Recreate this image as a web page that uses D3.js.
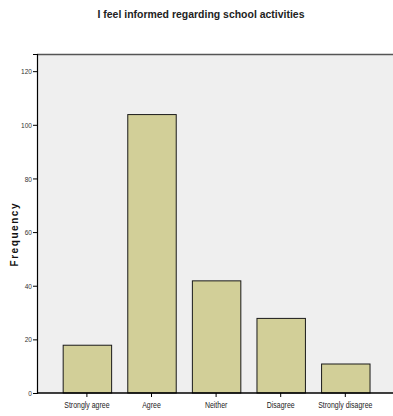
<!DOCTYPE html>
<html><head><meta charset="utf-8">
<script src="https://cdn.jsdelivr.net/npm/d3@7"></script>
<style>
body{margin:0;background:#fff;}
text{font-family:"Liberation Sans Narrow","Arial Narrow","Liberation Sans",Arial,sans-serif;}
</style></head>
<body>
<svg id="chart" width="393" height="416"></svg>
<script>
const categories = ["Strongly agree","Agree","Neither","Disagree","Strongly disagree"];
const frequencies = [18, 104, 42, 28, 11];
const yTicks = [0, 20, 40, 60, 80, 100, 120];
const title = "I feel informed regarding school activities";
const yLabel = "Frequency";

const svg = d3.select("#chart");
const plot = {left: 37, top: 54, right: 393, bottom: 393};

const y = d3.scaleLinear().domain([0, 126.4]).range([plot.bottom, plot.top]);
const x = d3.scaleBand().domain(categories).range([54.6, 377.6]).paddingInner(0.25).paddingOuter(0.125);

// background
svg.append("rect").attr("x", plot.left).attr("y", plot.top)
  .attr("width", plot.right - plot.left).attr("height", plot.bottom - plot.top)
  .attr("fill", "#efefef");
// top frame line
svg.append("line").attr("x1", plot.left).attr("x2", plot.right)
  .attr("y1", plot.top + 0.5).attr("y2", plot.top + 0.5)
  .attr("stroke", "#555").attr("stroke-width", 1.5);

// bars
svg.append("g").selectAll("rect").data(categories).join("rect")
  .attr("x", d => x(d) + 0.5)
  .attr("y", (d, i) => y(frequencies[i]) + 0.5)
  .attr("width", x.bandwidth())
  .attr("height", (d, i) => plot.bottom - y(frequencies[i]) - 0.5)
  .attr("fill", "#d2cf98")
  .attr("stroke", "#1a1a1a").attr("stroke-width", 1);

// y axis
const yAxis = d3.axisLeft(y).tickValues(yTicks).tickSize(4).tickPadding(1);
const gy = svg.append("g").attr("transform", `translate(${plot.left},0)`).call(yAxis);
gy.select(".domain").attr("stroke", "#000").attr("stroke-width", 1.2);
gy.selectAll(".tick line").attr("stroke", "#000");
gy.selectAll(".tick text").attr("font-size", 8).attr("fill", "#333")
  .attr("transform", "translate(-5,0) scale(0.82,1) translate(5,0)");

// x axis
const xAxis = d3.axisBottom(x).tickSize(4).tickPadding(5);
const gx = svg.append("g").attr("transform", `translate(0,${plot.bottom})`).call(xAxis);
gx.select(".domain").remove();
gx.append("line").attr("x1", plot.left).attr("x2", plot.right).attr("y1", 0).attr("y2", 0)
  .attr("stroke", "#000").attr("stroke-width", 1.5);
gx.selectAll(".tick line").attr("stroke", "#000");
gx.selectAll(".tick text").attr("font-size", 8.5).attr("fill", "#222")
  .attr("transform", "scale(0.82,1)");

// title
svg.append("text").attr("x", 201).attr("y", 18).attr("text-anchor", "middle")
  .attr("font-size", 10.5).attr("font-weight", "bold").attr("fill", "#222")
  .attr("textLength", 207).attr("lengthAdjust", "spacingAndGlyphs")
  .text(title);

// y label
svg.append("text").attr("transform", "translate(17.5,235) rotate(-90)")
  .attr("text-anchor", "middle").attr("font-size", 10).attr("font-weight", "bold")
  .attr("font-family", "Liberation Sans, Arial, sans-serif")
  .attr("textLength", 63).attr("lengthAdjust", "spacing")
  .attr("fill", "#111").text(yLabel);
</script>
</body></html>
